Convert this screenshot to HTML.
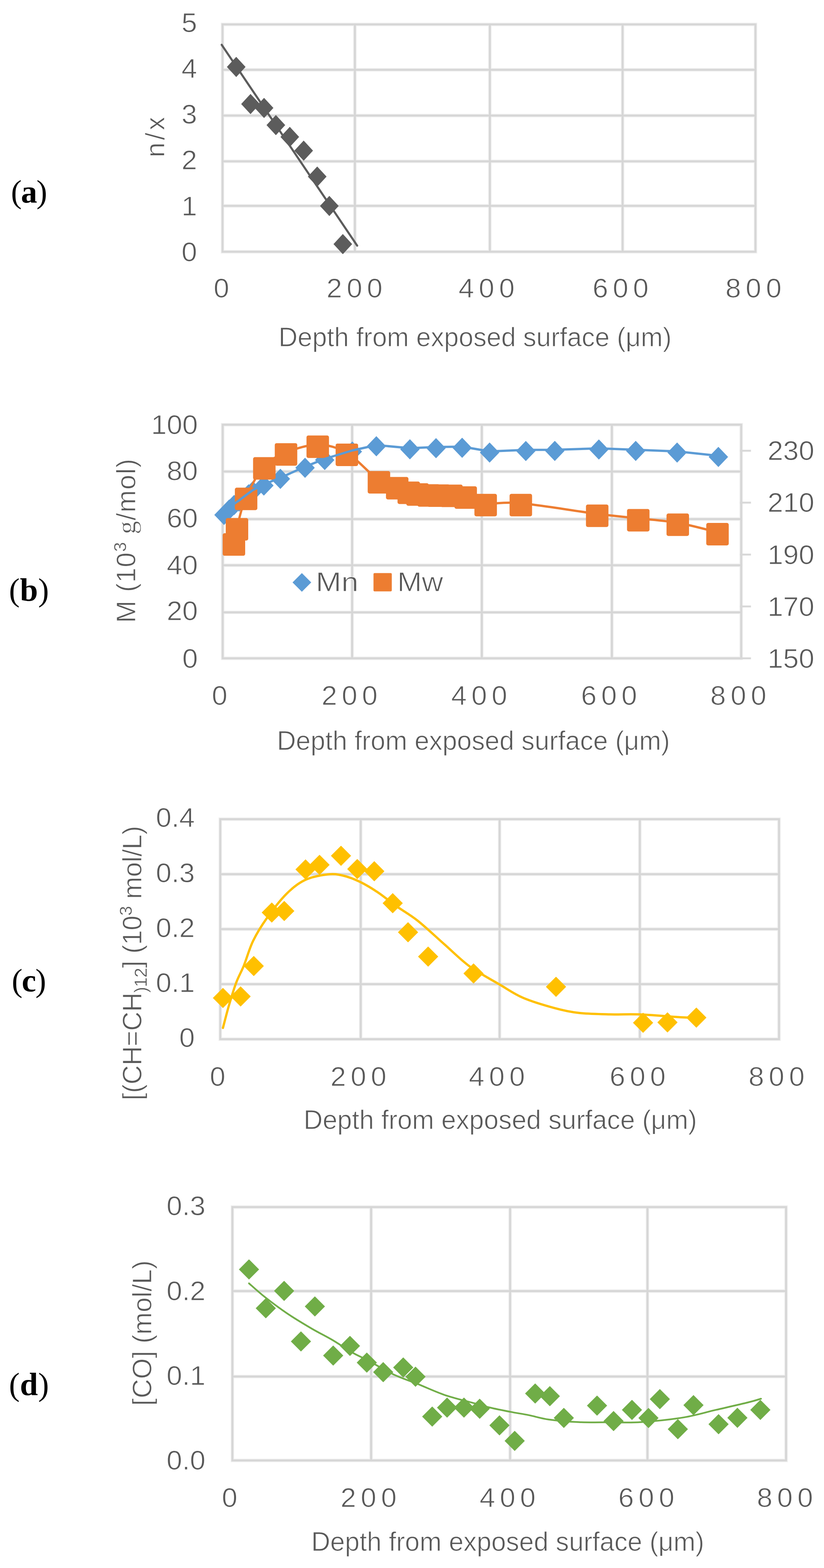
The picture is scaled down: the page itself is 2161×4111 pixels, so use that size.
<!DOCTYPE html>
<html><head><meta charset="utf-8"><title>Figure</title>
<style>html,body{margin:0;padding:0;background:#fff;}svg{display:block;}</style>
</head><body>
<svg width="2161" height="4111" viewBox="0 0 2161 4111" font-family="Liberation Sans, Arial, sans-serif" fill="#595959">
<style>text{stroke:#fff;stroke-width:1.2px}.s{stroke-width:0.6px}</style>
<rect width="2161" height="4111" fill="#fff"/>
<g stroke="#d8d8d8" stroke-width="5" stroke-linecap="square">
<path d="M583.6 64H1981.3M583.6 183H1981.3M583.6 303H1981.3M583.6 423H1981.3M583.6 539.7H1981.3M583.6 660H1981.3M583.6 64V660M930.7 64V660M1284.7 64V660M1632.8 64V660M1981.3 64V660" stroke="#eeeeee" stroke-width="9"/>
<path d="M583.6 64H1981.3M583.6 183H1981.3M583.6 303H1981.3M583.6 423H1981.3M583.6 539.7H1981.3M583.6 660H1981.3M583.6 64V660M930.7 64V660M1284.7 64V660M1632.8 64V660M1981.3 64V660" stroke="#d6d6d6" stroke-width="5"/>
</g>
<text transform="translate(517 83.8) scale(1.05 1)" text-anchor="end" font-size="70">5</text>
<text transform="translate(517 204) scale(1.05 1)" text-anchor="end" font-size="70">4</text>
<text transform="translate(517 324.2) scale(1.05 1)" text-anchor="end" font-size="70">3</text>
<text transform="translate(517 444.4) scale(1.05 1)" text-anchor="end" font-size="70">2</text>
<text transform="translate(517 564.6) scale(1.05 1)" text-anchor="end" font-size="70">1</text>
<text transform="translate(517 684.8) scale(1.05 1)" text-anchor="end" font-size="70">0</text>
<text transform="translate(580.6 779.5) scale(1.05 1)" text-anchor="middle" letter-spacing="0" font-size="70">0</text>
<text transform="translate(935.7 779.5) scale(1.05 1)" text-anchor="middle" letter-spacing="11.6" font-size="70">200</text>
<text transform="translate(1282.1 779.5) scale(1.05 1)" text-anchor="middle" letter-spacing="11.6" font-size="70">400</text>
<text transform="translate(1633.5 779.5) scale(1.05 1)" text-anchor="middle" letter-spacing="11.6" font-size="70">600</text>
<text transform="translate(1982.1 779.5) scale(1.05 1)" text-anchor="middle" letter-spacing="11.6" font-size="70">800</text>
<text x="730.6" y="907.6" font-size="70" textLength="1030.6" lengthAdjust="spacingAndGlyphs">Depth from exposed surface (μm)</text>
<text transform="translate(431 359.4) rotate(-90)" text-anchor="middle" font-size="70" textLength="106" lengthAdjust="spacing">n/x</text>
<text x="28.7" y="531" font-family="Liberation Serif, serif" font-size="85" letter-spacing="-2" fill="#000" style="stroke:none">(<tspan font-weight="bold">a</tspan>)</text>
<polyline points="581.4,117.5 936.7,644.0" fill="none" stroke="#5c5c5c" stroke-width="5.5" stroke-linejoin="round" stroke-linecap="round"/>
<path d="M595.0 175.5L619.5 149.0L644.0 175.5L619.5 202.0ZM632.5 272.7L657.0 246.2L681.5 272.7L657.0 299.2ZM668.0 283.0L692.5 256.5L717.0 283.0L692.5 309.5ZM699.0 328.0L723.5 301.5L748.0 328.0L723.5 354.5ZM735.5 359.0L760.0 332.5L784.5 359.0L760.0 385.5ZM771.9 395.0L796.4 368.5L820.9 395.0L796.4 421.5ZM807.4 463.0L831.9 436.5L856.4 463.0L831.9 489.5ZM839.2 540.0L863.7 513.5L888.2 540.0L863.7 566.5ZM874.6 640.0L899.1 613.5L923.6 640.0L899.1 666.5Z" fill="#5c5c5c"/>
<g stroke="#d8d8d8" stroke-width="5" stroke-linecap="square">
<path d="M584 1113.5H1943.9M584 1236.3H1943.9M584 1361H1943.9M584 1482H1943.9M584 1605.5H1943.9M584 1726H1943.9M584 1113.5V1726M923.5 1113.5V1726M1263.6 1113.5V1726M1604.7 1113.5V1726M1943.9 1113.5V1726" stroke="#eeeeee" stroke-width="9"/>
<path d="M584 1113.5H1943.9M584 1236.3H1943.9M584 1361H1943.9M584 1482H1943.9M584 1605.5H1943.9M584 1726H1943.9M584 1113.5V1726M923.5 1113.5V1726M1263.6 1113.5V1726M1604.7 1113.5V1726M1943.9 1113.5V1726" stroke="#d6d6d6" stroke-width="5"/>
<line x1="1943" y1="1181.8" x2="1967" y2="1181.8"/>
<line x1="1943" y1="1317.8" x2="1967" y2="1317.8"/>
<line x1="1943" y1="1454" x2="1967" y2="1454"/>
<line x1="1943" y1="1590" x2="1967" y2="1590"/>
<line x1="1943" y1="1726" x2="1967" y2="1726"/>
</g>
<text transform="translate(519 1138) scale(1.05 1)" text-anchor="end" font-size="70">100</text>
<text transform="translate(519 1259) scale(1.05 1)" text-anchor="end" font-size="70">80</text>
<text transform="translate(519 1382.6) scale(1.05 1)" text-anchor="end" font-size="70">60</text>
<text transform="translate(519 1505.8) scale(1.05 1)" text-anchor="end" font-size="70">40</text>
<text transform="translate(519 1626.3) scale(1.05 1)" text-anchor="end" font-size="70">20</text>
<text transform="translate(519 1750.6) scale(1.05 1)" text-anchor="end" font-size="70">0</text>
<text transform="translate(2013 1206.3) scale(1.05 1)" text-anchor="start" font-size="70">230</text>
<text transform="translate(2013 1342.3) scale(1.05 1)" text-anchor="start" font-size="70">210</text>
<text transform="translate(2013 1478.5) scale(1.05 1)" text-anchor="start" font-size="70">190</text>
<text transform="translate(2013 1614.5) scale(1.05 1)" text-anchor="start" font-size="70">170</text>
<text transform="translate(2013 1750.5) scale(1.05 1)" text-anchor="start" font-size="70">150</text>
<text transform="translate(576.0 1848) scale(1.05 1)" text-anchor="middle" letter-spacing="0" font-size="70">0</text>
<text transform="translate(922.7 1848) scale(1.05 1)" text-anchor="middle" letter-spacing="11.6" font-size="70">200</text>
<text transform="translate(1262.8 1848) scale(1.05 1)" text-anchor="middle" letter-spacing="11.6" font-size="70">400</text>
<text transform="translate(1603.3 1848) scale(1.05 1)" text-anchor="middle" letter-spacing="11.6" font-size="70">600</text>
<text transform="translate(1942.4 1848) scale(1.05 1)" text-anchor="middle" letter-spacing="11.6" font-size="70">800</text>
<text x="726.2" y="1966.4" font-size="70" textLength="1030.6" lengthAdjust="spacingAndGlyphs">Depth from exposed surface (μm)</text>
<text transform="translate(355 1418) rotate(-90)" text-anchor="middle" font-size="70" textLength="430" lengthAdjust="spacing">M (10<tspan class="s" font-size="46" dy="-24">3</tspan><tspan dy="24" font-family="Liberation Serif, serif"> g</tspan>/mol)</text>
<text x="23.5" y="1574.5" font-family="Liberation Serif, serif" font-size="85" letter-spacing="0.5" fill="#000" style="stroke:none">(<tspan font-weight="bold">b</tspan>)</text>
<path d="M562.0 1350.0L587.5 1323.5L613.0 1350.0L587.5 1376.5ZM575.5 1336.0L601.0 1309.5L626.5 1336.0L601.0 1362.5ZM588.5 1324.0L614.0 1297.5L639.5 1324.0L614.0 1350.5ZM601.5 1315.0L627.0 1288.5L652.5 1315.0L627.0 1341.5ZM614.5 1305.0L640.0 1278.5L665.5 1305.0L640.0 1331.5ZM626.5 1296.0L652.0 1269.5L677.5 1296.0L652.0 1322.5ZM637.5 1288.0L663.0 1261.5L688.5 1288.0L663.0 1314.5ZM666.5 1273.0L692.0 1246.5L717.5 1273.0L692.0 1299.5ZM709.8 1255.5L735.3 1229.0L760.8 1255.5L735.3 1282.0ZM774.5 1226.6L800.0 1200.1L825.5 1226.6L800.0 1253.1ZM826.1 1206.0L851.6 1179.5L877.1 1206.0L851.6 1232.5ZM898.5 1184.0L924.0 1157.5L949.5 1184.0L924.0 1210.5ZM961.5 1170.0L987.0 1143.5L1012.5 1170.0L987.0 1196.5ZM1049.5 1178.0L1075.0 1151.5L1100.5 1178.0L1075.0 1204.5ZM1118.0 1175.0L1143.5 1148.5L1169.0 1175.0L1143.5 1201.5ZM1186.5 1174.0L1212.0 1147.5L1237.5 1174.0L1212.0 1200.5ZM1258.5 1186.4L1284.0 1159.9L1309.5 1186.4L1284.0 1212.9ZM1353.5 1182.6L1379.0 1156.1L1404.5 1182.6L1379.0 1209.1ZM1429.5 1182.2L1455.0 1155.7L1480.5 1182.2L1455.0 1208.7ZM1545.1 1178.6L1570.6 1152.1L1596.1 1178.6L1570.6 1205.1ZM1641.7 1182.2L1667.2 1155.7L1692.7 1182.2L1667.2 1208.7ZM1750.3 1186.6L1775.8 1160.1L1801.3 1186.6L1775.8 1213.1ZM1858.5 1198.0L1884.0 1171.5L1909.5 1198.0L1884.0 1224.5Z" fill="#5b9bd5"/>
<path d="M613.5 1422.6C614.8 1415.9 616.2 1402.6 621.5 1382.7C626.8 1362.8 633.4 1329.6 645.4 1303.0C657.4 1276.4 675.8 1242.5 693.2 1223.1C710.7 1203.7 726.8 1195.9 750.1 1186.4C773.5 1176.9 806.7 1166.0 833.3 1166.2C859.9 1166.4 883.0 1171.9 909.7 1187.4C936.5 1203.0 971.8 1244.9 993.8 1259.5C1015.8 1274.1 1028.7 1270.4 1041.7 1275.0C1054.7 1279.6 1063.1 1284.2 1072.0 1287.0C1080.9 1289.8 1086.3 1290.3 1095.0 1291.5C1103.7 1292.7 1114.8 1293.5 1124.0 1294.0C1133.2 1294.5 1140.0 1294.3 1150.0 1294.5C1160.0 1294.7 1172.1 1294.2 1184.0 1295.0C1195.9 1295.8 1206.3 1295.5 1221.3 1299.5C1236.2 1303.5 1249.6 1316.0 1273.7 1319.3C1297.8 1322.6 1317.2 1314.6 1365.9 1319.3C1414.7 1324.0 1514.9 1340.7 1566.2 1347.3C1617.5 1353.9 1638.7 1355.0 1673.9 1358.9C1709.1 1362.8 1742.9 1364.7 1777.5 1370.8C1812.1 1376.9 1864.3 1391.4 1881.7 1395.5" fill="none" stroke="#ed7d31" stroke-width="6" stroke-linecap="round" stroke-linejoin="round"/>
<rect x="584.0" y="1398.1" width="59" height="59" rx="5" fill="#ed7d31"/>
<rect x="592.0" y="1358.2" width="59" height="59" rx="5" fill="#ed7d31"/>
<rect x="615.9" y="1278.5" width="59" height="59" rx="5" fill="#ed7d31"/>
<rect x="663.7" y="1198.6" width="59" height="59" rx="5" fill="#ed7d31"/>
<rect x="720.6" y="1161.9" width="59" height="59" rx="5" fill="#ed7d31"/>
<rect x="803.8" y="1141.7" width="59" height="59" rx="5" fill="#ed7d31"/>
<rect x="880.2" y="1162.9" width="59" height="59" rx="5" fill="#ed7d31"/>
<rect x="964.3" y="1235.0" width="59" height="59" rx="5" fill="#ed7d31"/>
<rect x="1012.2" y="1250.5" width="59" height="59" rx="5" fill="#ed7d31"/>
<rect x="1042.5" y="1262.5" width="59" height="59" rx="5" fill="#ed7d31"/>
<rect x="1065.5" y="1267.0" width="59" height="59" rx="5" fill="#ed7d31"/>
<rect x="1094.5" y="1269.5" width="59" height="59" rx="5" fill="#ed7d31"/>
<rect x="1120.5" y="1270.0" width="59" height="59" rx="5" fill="#ed7d31"/>
<rect x="1154.5" y="1270.5" width="59" height="59" rx="5" fill="#ed7d31"/>
<rect x="1191.8" y="1275.0" width="59" height="59" rx="5" fill="#ed7d31"/>
<rect x="1244.2" y="1294.8" width="59" height="59" rx="5" fill="#ed7d31"/>
<rect x="1336.4" y="1294.8" width="59" height="59" rx="5" fill="#ed7d31"/>
<rect x="1536.7" y="1322.8" width="59" height="59" rx="5" fill="#ed7d31"/>
<rect x="1644.4" y="1334.4" width="59" height="59" rx="5" fill="#ed7d31"/>
<rect x="1748.0" y="1346.3" width="59" height="59" rx="5" fill="#ed7d31"/>
<rect x="1852.2" y="1371.0" width="59" height="59" rx="5" fill="#ed7d31"/>
<polyline points="587.5,1347.0 601.0,1333.0 614.0,1321.0 627.0,1312.0 640.0,1302.0 652.0,1293.0 663.0,1285.0 692.0,1270.0 735.3,1252.5 800.0,1223.6 851.6,1203.0 924.0,1181.0 987.0,1167.0 1075.0,1175.0 1143.5,1172.0 1212.0,1171.0 1284.0,1183.4 1379.0,1179.6 1455.0,1179.2 1570.6,1175.6 1667.2,1179.2 1775.8,1183.6 1884.0,1195.0" fill="none" stroke="#5b9bd5" stroke-width="6" stroke-linejoin="round" stroke-linecap="round"/>
<path d="M767.2 1527.0L791.7 1502.5L816.2 1527.0L791.7 1551.5Z" fill="#5b9bd5"/>
<text x="828" y="1550" font-size="70" textLength="112" lengthAdjust="spacingAndGlyphs">Mn</text>
<rect x="979.5" y="1502.5" width="48" height="48" rx="3" fill="#ed7d31"/>
<text x="1042" y="1550" font-size="70" textLength="120" lengthAdjust="spacingAndGlyphs">Mw</text>
<g stroke="#d8d8d8" stroke-width="5" stroke-linecap="square">
<path d="M577.7 2147.7H2043M577.7 2291.9H2043M577.7 2436.1H2043M577.7 2580.3H2043M577.7 2724.5H2043M577.7 2147.7V2724.5M946 2147.7V2724.5M1310.2 2147.7V2724.5M1678 2147.7V2724.5M2043 2147.7V2724.5" stroke="#eeeeee" stroke-width="9"/>
<path d="M577.7 2147.7H2043M577.7 2291.9H2043M577.7 2436.1H2043M577.7 2580.3H2043M577.7 2724.5H2043M577.7 2147.7V2724.5M946 2147.7V2724.5M1310.2 2147.7V2724.5M1678 2147.7V2724.5M2043 2147.7V2724.5" stroke="#d6d6d6" stroke-width="5"/>
</g>
<text transform="translate(511 2168.3999999999996) scale(1.05 1)" text-anchor="end" font-size="70">0.4</text>
<text transform="translate(511 2312.6) scale(1.05 1)" text-anchor="end" font-size="70">0.3</text>
<text transform="translate(511 2456.7999999999997) scale(1.05 1)" text-anchor="end" font-size="70">0.2</text>
<text transform="translate(511 2601.0) scale(1.05 1)" text-anchor="end" font-size="70">0.1</text>
<text transform="translate(511 2745.2) scale(1.05 1)" text-anchor="end" font-size="70">0</text>
<text transform="translate(570.6 2847) scale(1.05 1)" text-anchor="middle" letter-spacing="0" font-size="70">0</text>
<text transform="translate(946.0 2847) scale(1.05 1)" text-anchor="middle" letter-spacing="11.6" font-size="70">200</text>
<text transform="translate(1309.1 2847) scale(1.05 1)" text-anchor="middle" letter-spacing="11.6" font-size="70">400</text>
<text transform="translate(1678.3 2847) scale(1.05 1)" text-anchor="middle" letter-spacing="11.6" font-size="70">600</text>
<text transform="translate(2042.6 2847) scale(1.05 1)" text-anchor="middle" letter-spacing="11.6" font-size="70">800</text>
<text x="796.2" y="2959.8" font-size="70" textLength="1031.7" lengthAdjust="spacingAndGlyphs">Depth from exposed surface (μm)</text>
<text transform="translate(371 2525) rotate(-90)" text-anchor="middle" font-size="70" textLength="719.5" lengthAdjust="spacing">[(CH=CH<tspan class="s" font-size="46" dy="14">)12</tspan><tspan dy="-14">] (10</tspan><tspan class="s" font-size="46" dy="-25">3</tspan><tspan dy="25"> mol/L)</tspan></text>
<text x="30.8" y="2599" font-family="Liberation Serif, serif" font-size="85" letter-spacing="-2" fill="#000" style="stroke:none">(<tspan font-weight="bold">c</tspan>)</text>
<path d="M584.7 2695.0C587.4 2684.8 595.1 2653.9 601.0 2634.0C606.9 2614.1 613.3 2592.7 619.8 2575.5C626.3 2558.3 632.5 2549.1 639.8 2531.0C647.1 2512.9 653.7 2487.6 663.7 2467.0C673.7 2446.4 685.0 2428.1 699.6 2407.5C714.2 2386.9 734.9 2360.1 751.5 2343.4C768.1 2326.7 781.3 2316.0 799.3 2307.5C817.2 2299.0 842.6 2294.5 859.2 2292.5C875.8 2290.5 885.0 2292.3 899.0 2295.5C913.0 2298.7 927.7 2304.2 943.0 2311.5C958.3 2318.8 974.8 2328.8 990.8 2339.4C1006.8 2350.0 1021.3 2362.9 1038.7 2375.3C1056.1 2387.7 1073.9 2396.9 1095.0 2413.6C1116.1 2430.3 1142.6 2455.7 1165.4 2475.7C1188.2 2495.7 1207.5 2516.0 1231.6 2533.6C1255.7 2551.2 1286.8 2567.3 1310.2 2581.1C1333.6 2594.9 1348.1 2606.0 1372.2 2616.3C1396.3 2626.7 1430.8 2636.6 1454.9 2643.2C1479.0 2649.8 1492.8 2652.9 1517.0 2655.6C1541.2 2658.3 1573.5 2658.8 1600.0 2659.5C1626.5 2660.2 1645.3 2658.3 1675.8 2659.5C1706.3 2660.7 1758.2 2665.5 1783.2 2666.9C1808.2 2668.3 1818.9 2667.8 1826.0 2668.0" fill="none" stroke="#ffc000" stroke-width="6" stroke-linecap="round" stroke-linejoin="round"/>
<path d="M558.2 2616.6L584.7 2590.1L611.2 2616.6L584.7 2643.1ZM604.5 2612.6L631.0 2586.1L657.5 2612.6L631.0 2639.1ZM639.0 2532.8L665.5 2506.3L692.0 2532.8L665.5 2559.3ZM686.3 2392.4L712.8 2365.9L739.3 2392.4L712.8 2418.9ZM719.0 2388.4L745.5 2361.9L772.0 2388.4L745.5 2414.9ZM774.8 2279.6L801.3 2253.1L827.8 2279.6L801.3 2306.1ZM811.5 2267.6L838.0 2241.1L864.5 2267.6L838.0 2294.1ZM867.8 2243.7L894.3 2217.2L920.8 2243.7L894.3 2270.2ZM910.5 2278.4L937.0 2251.9L963.5 2278.4L937.0 2304.9ZM955.1 2284.3L981.6 2257.8L1008.1 2284.3L981.6 2310.8ZM1003.4 2368.1L1029.9 2341.6L1056.4 2368.1L1029.9 2394.6ZM1043.6 2444.3L1070.1 2417.8L1096.6 2444.3L1070.1 2470.8ZM1096.3 2507.9L1122.8 2481.4L1149.3 2507.9L1122.8 2534.4ZM1215.4 2552.2L1241.9 2525.7L1268.4 2552.2L1241.9 2578.7ZM1431.7 2587.3L1458.2 2560.8L1484.7 2587.3L1458.2 2613.8ZM1660.0 2681.5L1686.5 2655.0L1713.0 2681.5L1686.5 2708.0ZM1724.0 2680.5L1750.5 2654.0L1777.0 2680.5L1750.5 2707.0ZM1799.7 2667.9L1826.2 2641.4L1852.7 2667.9L1826.2 2694.4Z" fill="#ffc000"/>
<g stroke="#d8d8d8" stroke-width="5" stroke-linecap="square">
<path d="M609.5 3164.8H2061.5M609.5 3385H2061.5M609.5 3608.9H2061.5M609.5 3829H2061.5M609.5 3164.8V3829M973.3 3164.8V3829M1337.8 3164.8V3829M1698 3164.8V3829M2061.5 3164.8V3829" stroke="#eeeeee" stroke-width="9"/>
<path d="M609.5 3164.8H2061.5M609.5 3385H2061.5M609.5 3608.9H2061.5M609.5 3829H2061.5M609.5 3164.8V3829M973.3 3164.8V3829M1337.8 3164.8V3829M1698 3164.8V3829M2061.5 3164.8V3829" stroke="#d6d6d6" stroke-width="5"/>
</g>
<text transform="translate(539 3185.5) scale(1.05 1)" text-anchor="end" font-size="70">0.3</text>
<text transform="translate(539 3409) scale(1.05 1)" text-anchor="end" font-size="70">0.2</text>
<text transform="translate(539 3630.5) scale(1.05 1)" text-anchor="end" font-size="70">0.1</text>
<text transform="translate(539 3853) scale(1.05 1)" text-anchor="end" font-size="70">0.0</text>
<text transform="translate(602.2 3951) scale(1.05 1)" text-anchor="middle" letter-spacing="0" font-size="70">0</text>
<text transform="translate(972.6 3951) scale(1.05 1)" text-anchor="middle" letter-spacing="11.6" font-size="70">200</text>
<text transform="translate(1337.2 3951) scale(1.05 1)" text-anchor="middle" letter-spacing="11.6" font-size="70">400</text>
<text transform="translate(1701.1 3951) scale(1.05 1)" text-anchor="middle" letter-spacing="11.6" font-size="70">600</text>
<text transform="translate(2064.6 3951) scale(1.05 1)" text-anchor="middle" letter-spacing="11.6" font-size="70">800</text>
<text x="816.2" y="4066.4" font-size="70" textLength="1030.6" lengthAdjust="spacingAndGlyphs">Depth from exposed surface (μm)</text>
<text transform="translate(397 3495) rotate(-90)" text-anchor="middle" font-size="70">[CO] (mol/L)</text>
<text x="23.5" y="3658" font-family="Liberation Serif, serif" font-size="85" letter-spacing="0.5" fill="#000" style="stroke:none">(<tspan font-weight="bold">d</tspan>)</text>
<path d="M653.0 3364.7C660.0 3370.8 678.6 3388.0 695.2 3401.1C711.8 3414.2 732.3 3429.6 752.8 3443.4C773.3 3457.2 798.2 3472.0 818.1 3483.7C838.0 3495.3 854.0 3502.8 871.9 3513.3C889.8 3523.9 910.2 3538.2 925.6 3547.0C941.0 3555.8 946.1 3556.8 964.0 3566.3C981.9 3575.8 1011.2 3593.7 1033.0 3604.0C1054.8 3614.3 1072.8 3619.5 1095.0 3628.4C1117.2 3637.3 1142.3 3649.2 1165.9 3657.3C1189.5 3665.4 1216.9 3671.7 1236.8 3677.2C1256.7 3682.7 1268.5 3686.4 1285.5 3690.5C1302.5 3694.6 1321.7 3698.3 1338.7 3701.6C1355.7 3704.9 1370.6 3707.1 1387.4 3710.4C1404.2 3713.8 1417.5 3718.7 1439.3 3721.7C1461.1 3724.7 1491.2 3727.3 1518.0 3728.5C1544.8 3729.7 1572.8 3729.0 1600.0 3729.0C1627.2 3729.0 1648.8 3730.7 1681.0 3728.5C1713.2 3726.3 1760.6 3721.4 1793.4 3716.1C1826.2 3710.8 1849.6 3702.9 1877.7 3696.4C1905.8 3689.9 1942.3 3681.7 1962.0 3676.8C1981.7 3671.9 1990.2 3668.8 1995.8 3667.2" fill="none" stroke="#70ad47" stroke-width="4.5" stroke-linecap="round" stroke-linejoin="round"/>
<path d="M626.5 3328.2L653.0 3301.7L679.5 3328.2L653.0 3354.7ZM718.6 3384.6L745.1 3358.1L771.6 3384.6L745.1 3411.1ZM670.6 3429.9L697.1 3403.4L723.6 3429.9L697.1 3456.4ZM799.3 3425.3L825.8 3398.8L852.3 3425.3L825.8 3451.8ZM762.8 3517.1L789.3 3490.6L815.8 3517.1L789.3 3543.6ZM847.3 3554.0L873.8 3527.5L900.3 3554.0L873.8 3580.5ZM891.3 3528.7L917.8 3502.2L944.3 3528.7L917.8 3555.2ZM935.5 3572.5L962.0 3546.0L988.5 3572.5L962.0 3599.0ZM978.5 3597.4L1005.0 3570.9L1031.5 3597.4L1005.0 3623.9ZM1031.0 3585.3L1057.5 3558.8L1084.0 3585.3L1057.5 3611.8ZM1063.2 3609.4L1089.7 3582.9L1116.2 3609.4L1089.7 3635.9ZM1107.0 3714.0L1133.5 3687.5L1160.0 3714.0L1133.5 3740.5ZM1146.0 3690.5L1172.5 3664.0L1199.0 3690.5L1172.5 3717.0ZM1190.3 3690.5L1216.8 3664.0L1243.3 3690.5L1216.8 3717.0ZM1231.5 3693.6L1258.0 3667.1L1284.5 3693.6L1258.0 3720.1ZM1283.4 3737.0L1309.9 3710.5L1336.4 3737.0L1309.9 3763.5ZM1323.3 3777.8L1349.8 3751.3L1376.3 3777.8L1349.8 3804.3ZM1377.0 3653.5L1403.5 3627.0L1430.0 3653.5L1403.5 3680.0ZM1415.5 3660.5L1442.0 3634.0L1468.5 3660.5L1442.0 3687.0ZM1452.2 3717.5L1478.7 3691.0L1505.2 3717.5L1478.7 3744.0ZM1539.3 3685.2L1565.8 3658.7L1592.3 3685.2L1565.8 3711.7ZM1582.6 3725.7L1609.1 3699.2L1635.6 3725.7L1609.1 3752.2ZM1630.9 3696.4L1657.4 3669.9L1683.9 3696.4L1657.4 3722.9ZM1674.2 3717.8L1700.7 3691.3L1727.2 3717.8L1700.7 3744.3ZM1704.0 3668.3L1730.5 3641.8L1757.0 3668.3L1730.5 3694.8ZM1751.2 3747.0L1777.7 3720.5L1804.2 3747.0L1777.7 3773.5ZM1792.2 3684.0L1818.7 3657.5L1845.2 3684.0L1818.7 3710.5ZM1858.0 3734.1L1884.5 3707.6L1911.0 3734.1L1884.5 3760.6ZM1907.4 3717.2L1933.9 3690.7L1960.4 3717.2L1933.9 3743.7ZM1967.6 3696.4L1994.1 3669.9L2020.6 3696.4L1994.1 3722.9Z" fill="#70ad47"/>
</svg>
</body></html>
